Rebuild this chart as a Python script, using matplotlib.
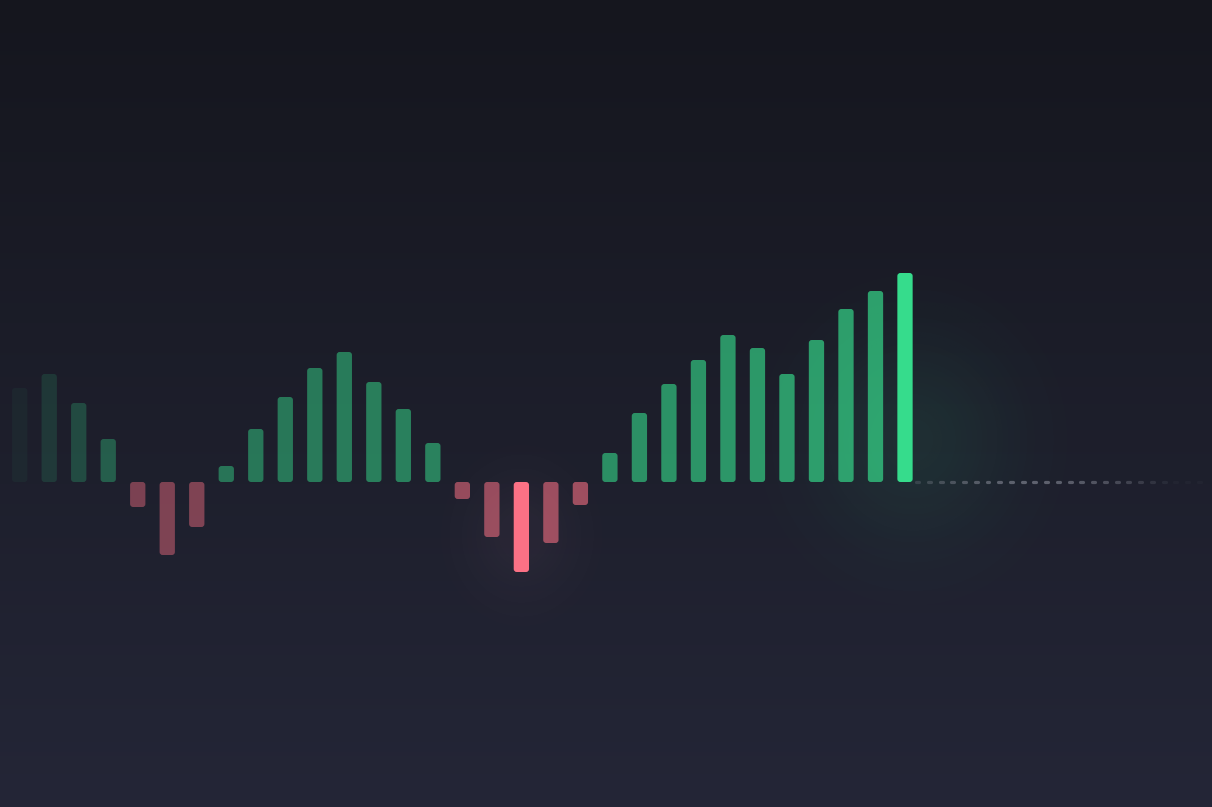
import numpy as np
import matplotlib
matplotlib.use("Agg")
import matplotlib.pyplot as plt
from matplotlib.patches import FancyBboxPatch
from matplotlib.colors import to_rgb

# ---- data (bar values, arbitrary units) ----
values = [9.4, 10.8, 7.9, 4.3, -2.5, -7.3, -4.5, 1.6, 5.3, 8.5, 11.4, 13.0,
          10.0, 7.3, 3.9, -1.7, -5.5, -9.0, -6.1, -2.3, 2.9, 6.9, 9.8, 12.2,
          14.7, 13.4, 10.8, 14.2, 17.3, 19.1, 20.9]
categories = list(range(len(values)))

# ---- style ----
W, H = 1212, 807
GREEN = "#36dc8c"
RED = "#fb7185"
BG_TOP = np.array(to_rgb("#15161e"))
BG_BOT = np.array(to_rgb("#242637"))

fig = plt.figure(figsize=(W / 100, H / 100), dpi=100)
ax = fig.add_axes([0, 0, 1, 1])
ax.set_axis_off()

x0_px, step_px = 19.7, 29.51
base_px_from_bottom = H - 482
ypx = 10.0  # pixels per value unit
xlim = (-x0_px / step_px, (W - x0_px) / step_px)
ylim = (-base_px_from_bottom / ypx, (H - base_px_from_bottom) / ypx)

# background gradient (row 0 = bottom with origin lower)
ny = 400
t = np.linspace(0, 1, ny)[:, None, None]  # 0 bottom -> 1 top
grad = BG_BOT[None, None, :] * (1 - t) + BG_TOP[None, None, :] * t
grad = np.repeat(grad, 2, axis=1)
ax.imshow(grad, extent=(xlim[0], xlim[1], ylim[0], ylim[1]), aspect="auto",
          zorder=0, interpolation="bicubic", origin="lower")

def glow(cx, cy, rx_px, ry_px, color, amax):
    nx, nyy = 300, 300
    xs = np.linspace(xlim[0], xlim[1], nx)
    ys = np.linspace(ylim[0], ylim[1], nyy)
    X, Y = np.meshgrid(xs, ys)
    dx = (X - cx) * step_px / rx_px
    dy = (Y - cy) * ypx / ry_px
    a = amax * np.exp(-(dx ** 2 + dy ** 2) * 2.0)
    img = np.zeros((nyy, nx, 4))
    img[..., :3] = to_rgb(color)
    img[..., 3] = a
    ax.imshow(img, extent=(xlim[0], xlim[1], ylim[0], ylim[1]), origin="lower",
              aspect="auto", zorder=1, interpolation="bilinear")

n = len(values)
imax = int(np.argmax(values))
imin = int(np.argmin(values))
glow(categories[imax] + 0.3, values[imax] * 0.2, 140, 150, GREEN, 0.09)
glow(categories[imin], values[imin] * 0.6, 80, 90, "#d08ca8", 0.06)
ax.set_xlim(*xlim)
ax.set_ylim(*ylim)

# bars
bw = 15.3 / step_px
asp = step_px / ypx
rs = 3.0 / step_px
for i, (c, v) in enumerate(zip(categories, values)):
    alpha = 0.38 + 0.32 * i / (n - 1)
    alpha *= min(1.0, 0.13 + 0.23 * i)
    col = GREEN if v >= 0 else RED
    if i == imax or i == imin:
        alpha = 1.0
    y0 = 0 if v >= 0 else v
    p = FancyBboxPatch((c - bw / 2, y0), bw, abs(v),
                       boxstyle=f"round,pad=0,rounding_size={rs}",
                       mutation_aspect=asp, facecolor=col, edgecolor="none",
                       alpha=alpha, zorder=3)
    ax.add_patch(p)

# dotted continuation line
start = categories[-1] + 11.0 / step_px
end = (1200 - x0_px) / step_px
period = 11.75 / step_px
dl = 3.0 / step_px
xs = np.arange(start, end, period)
m = len(xs)
for k, xx in enumerate(xs):
    u = k / max(1, m - 1)
    a = 0.6 * np.sin(np.pi * min(1.0, 0.12 + u * 0.95)) ** 0.9
    ax.plot([xx, xx + dl], [0, 0], color="#8a8d9a", lw=2.3,
            solid_capstyle="round", alpha=max(a, 0.05), zorder=2)

fig.savefig("out.png", dpi=100, facecolor=tuple(BG_TOP))
